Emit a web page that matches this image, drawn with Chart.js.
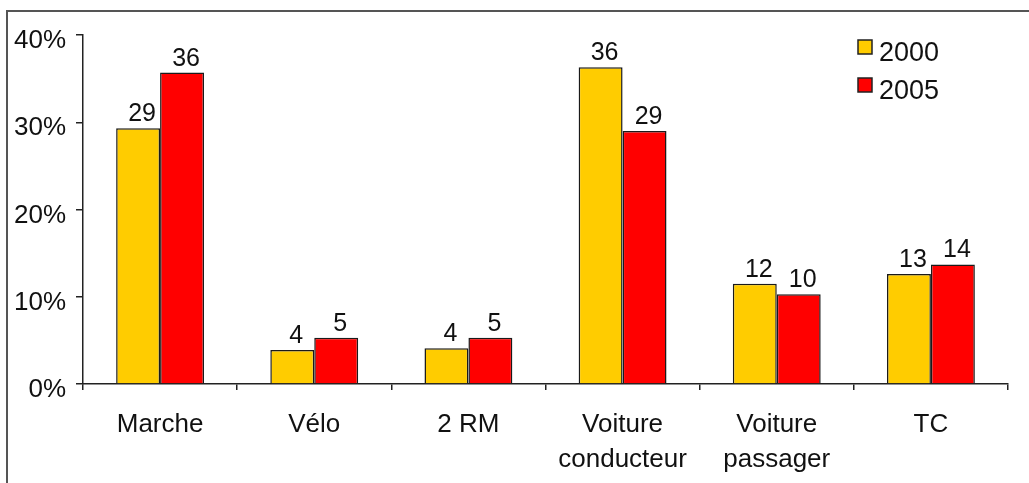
<!DOCTYPE html>
<html>
<head>
<meta charset="utf-8">
<script src="https://cdn.jsdelivr.net/npm/chart.js@4"></script>
<style>
  html, body { margin: 0; padding: 0; background: #fff; overflow: hidden; }
  #wrap { position: relative; width: 1029px; height: 483px; }
  #frame { position: absolute; left: 6px; top: 10px; width: 1100px; height: 600px; border: 2px solid #555; }
  #chart { position: absolute; left: 0; top: 0; }
</style>
</head>
<body>
<div id="wrap">
  <div id="frame"></div>
  <canvas id="chart" width="1029" height="483"></canvas>
</div>
<script>
// values (share of trips, %)
var categories = ["Marche", "Vélo", "2 RM", ["Voiture", "conducteur"], ["Voiture", "passager"], "TC"];
var seriesNames = ["2000", "2005"];
var values2000 = [29.3, 3.9, 4.1, 36.3, 11.5, 12.6];
var values2005 = [35.7, 5.3, 5.3, 29.0, 10.3, 13.7];
var yTicks = [0, 10, 20, 30, 40];

(function(){
  "use strict";
  var FONT = "'Liberation Sans', Arial, sans-serif";
  Chart.defaults.font.family = FONT;
  Chart.defaults.color = "#111";

  // numbers above each bar
  var barLabels = {
    id: "barLabels",
    afterDatasetsDraw: function(chart){
      var ctx = chart.ctx;
      ctx.save();
      ctx.font = "25px " + FONT;
      ctx.fillStyle = "#111";
      ctx.textAlign = "center";
      ctx.textBaseline = "alphabetic";
      chart.data.datasets.forEach(function(ds, i){
        chart.getDatasetMeta(i).data.forEach(function(bar, j){
          ctx.fillText(String(Math.round(ds.data[j])), bar.x + 4, bar.y - 7);
        });
      });
      ctx.restore();
    }
  };

  // small legend in the top right corner of the plot
  var cornerLegend = {
    id: "cornerLegend",
    afterDraw: function(chart){
      var ctx = chart.ctx;
      ctx.save();
      ctx.font = "27px " + FONT;
      ctx.textBaseline = "alphabetic";
      ctx.textAlign = "left";
      chart.data.datasets.forEach(function(ds, i){
        var top = 40 + i * 38;
        ctx.fillStyle = ds.backgroundColor;
        ctx.fillRect(858, top, 14, 14);
        ctx.lineWidth = 1.5;
        ctx.strokeStyle = "#222";
        ctx.strokeRect(858, top, 14, 14);
        ctx.fillStyle = "#111";
        ctx.fillText(ds.label, 879, top + 21);
      });
      ctx.restore();
    }
  };

  new Chart(document.getElementById("chart"), {
    type: "bar",
    data: {
      labels: categories,
      datasets: [
        { label: seriesNames[0], data: values2000, backgroundColor: "#FFCC00", borderColor: "#1a1a1a", borderWidth: 1.5 },
        { label: seriesNames[1], data: values2005, backgroundColor: "#FF0000", borderColor: "#1a1a1a", borderWidth: 1.5 }
      ]
    },
    plugins: [barLabels, cornerLegend],
    options: {
      responsive: false,
      animation: false,
      layout: { padding: { top: 35, right: 21, bottom: 0, left: 0 } },
      plugins: { legend: { display: false }, tooltip: { enabled: false } },
      datasets: { bar: { categoryPercentage: 0.57, barPercentage: 1.0 } },
      scales: {
        x: {
          grid: { drawOnChartArea: false, drawTicks: true, tickLength: 6, color: "#222", lineWidth: 1.5 },
          border: { color: "#222", width: 1.5 },
          ticks: { font: { size: 26, lineHeight: 1.35 }, color: "#111", padding: 17, maxRotation: 0, autoSkip: false },
          afterFit: function(s){ s.height = 99; }
        },
        y: {
          min: 0, max: 40,
          afterBuildTicks: function(s){ s.ticks = yTicks.map(function(v){ return { value: v }; }); },
          grid: { drawOnChartArea: false, drawTicks: true, tickLength: 7, color: "#222", lineWidth: 1.5 },
          border: { color: "#222", width: 1.5 },
          ticks: { font: { size: 26 }, color: "#111", padding: 10, labelOffset: 6, callback: function(v){ return v + "%"; } },
          afterFit: function(s){ s.width = 83; }
        }
      }
    }
  });
})();
</script>
</body>
</html>
